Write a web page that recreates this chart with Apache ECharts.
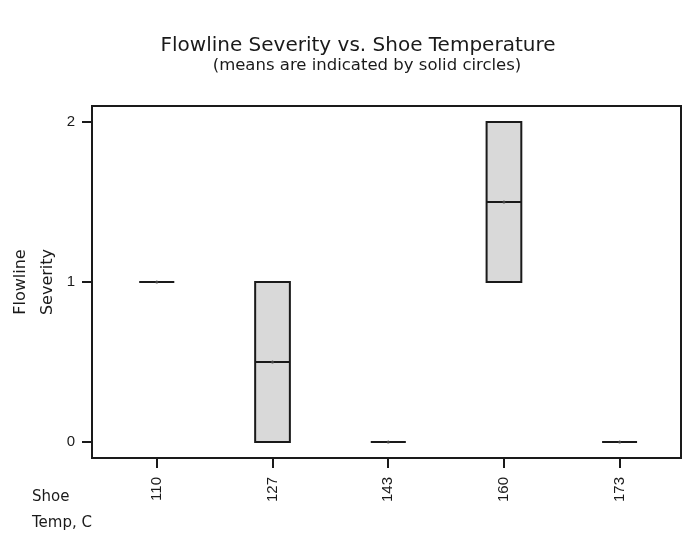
<!DOCTYPE html>
<html>
<head>
<meta charset="utf-8">
<script src="https://cdn.jsdelivr.net/npm/echarts@6/dist/echarts.min.js"></script>
<style>
  html, body { margin: 0; padding: 0; background: #fff; }
  #chart { width: 686px; height: 534px; }
</style>
</head>
<body>
<div id="chart"></div>
<script>
// Shoe temperature groups (deg C) and the severity summary for each group
const temperatures = ['110', '127', '143', '160', '173'];
const minValues    = [1, 0, 0, 1, 0];
const q1Values     = [1, 0, 0, 1, 0];
const medianValues = [1, 0.5, 0, 1.5, 0];
const q3Values     = [1, 1, 0, 2, 0];
const maxValues    = [1, 1, 0, 2, 0];
const meanValues   = [1, 0.5, 0, 1.5, 0];
const severityTicks = [0, 1, 2];

const boxData = temperatures.map((t, i) => [
  i, minValues[i], q1Values[i], medianValues[i], q3Values[i], maxValues[i], meanValues[i]
]);

const font = '"DejaVu Sans", "Liberation Sans", Arial, sans-serif';
const numFont = '"Liberation Sans", Arial, sans-serif';
const ink = '#1a1a1a';

function renderBox(params, api) {
  const x = api.value(0);
  const half = api.size([0.3, 0])[0] / 2;
  const pMin = api.coord([x, api.value(1)]);
  const pQ1 = api.coord([x, api.value(2)]);
  const pMed = api.coord([x, api.value(3)]);
  const pQ3 = api.coord([x, api.value(4)]);
  const pMax = api.coord([x, api.value(5)]);
  const pMean = api.coord([x, api.value(6)]);
  const line = { stroke: ink, lineWidth: 2 };
  return {
    type: 'group',
    children: [
      { type: 'line', shape: { x1: pMin[0], y1: pMin[1], x2: pQ1[0], y2: pQ1[1] }, style: line },
      { type: 'line', shape: { x1: pQ3[0], y1: pQ3[1], x2: pMax[0], y2: pMax[1] }, style: line },
      {
        type: 'rect',
        shape: { x: pQ3[0] - half, y: pQ3[1], width: half * 2, height: pQ1[1] - pQ3[1] },
        style: { fill: '#d9d9d9', stroke: ink, lineWidth: 2 }
      },
      { type: 'line', shape: { x1: pMed[0] - half, y1: pMed[1], x2: pMed[0] + half, y2: pMed[1] }, style: line },
      { type: 'circle', shape: { cx: pMean[0], cy: pMean[1], r: 1.5 }, style: { fill: '#444' } }
    ]
  };
}

const chart = echarts.init(document.getElementById('chart'), null, { renderer: 'canvas' });
chart.setOption({
  animation: false,
  backgroundColor: '#fff',
  title: [
    {
      text: 'Flowline Severity vs. Shoe Temperature',
      left: 353, top: 31, textAlign: 'center',
      textStyle: { fontFamily: font, fontSize: 20, fontWeight: 'normal', color: ink }
    },
    {
      text: '(means are indicated by solid circles)',
      left: 362, top: 52, textAlign: 'center',
      textStyle: { fontFamily: font, fontSize: 16.5, fontWeight: 'normal', color: ink }
    },
    {
      text: 'Shoe\nTemp, C',
      left: 27, top: 479,
      textStyle: { fontFamily: font, fontSize: 15, fontWeight: 'normal', color: ink, lineHeight: 26 }
    }
  ],
  grid: {
    left: 92, right: 5, top: 106, bottom: 76,
    containLabel: false,
    outerBoundsMode: 'none',
    show: true, borderColor: ink, borderWidth: 2, backgroundColor: 'transparent'
  },
  xAxis: {
    type: 'value',
    min: -0.56, max: 4.53,
    splitLine: { show: false },
    axisLine: { show: false, onZero: false },
    axisTick: { show: true, customValues: [0, 1, 2, 3, 4], length: 10, lineStyle: { color: ink, width: 2 } },
    axisLabel: {
      customValues: [0, 1, 2, 3, 4],
      rotate: 90, margin: 19,
      fontFamily: numFont, fontSize: 15, color: ink,
      formatter: v => temperatures[Math.round(v)]
    }
  },
  yAxis: {
    type: 'value',
    min: -0.1, max: 2.1,
    name: 'Flowline\nSeverity',
    nameLocation: 'middle',
    nameRotate: 90,
    nameGap: 31,
    nameMoveOverlap: false,
    nameTextStyle: { fontFamily: font, fontSize: 16, color: ink, lineHeight: 27 },
    splitLine: { show: false },
    axisLine: { show: false, onZero: false },
    axisTick: { show: true, customValues: severityTicks, length: 10, lineStyle: { color: ink, width: 2 } },
    axisLabel: {
      customValues: severityTicks, margin: 17,
      fontFamily: numFont, fontSize: 15, color: ink
    }
  },
  series: [{
    type: 'custom',
    renderItem: renderBox,
    data: boxData,
    encode: { x: 0, y: [1, 2, 3, 4, 5] },
    clip: false
  }]
});
</script>
</body>
</html>
